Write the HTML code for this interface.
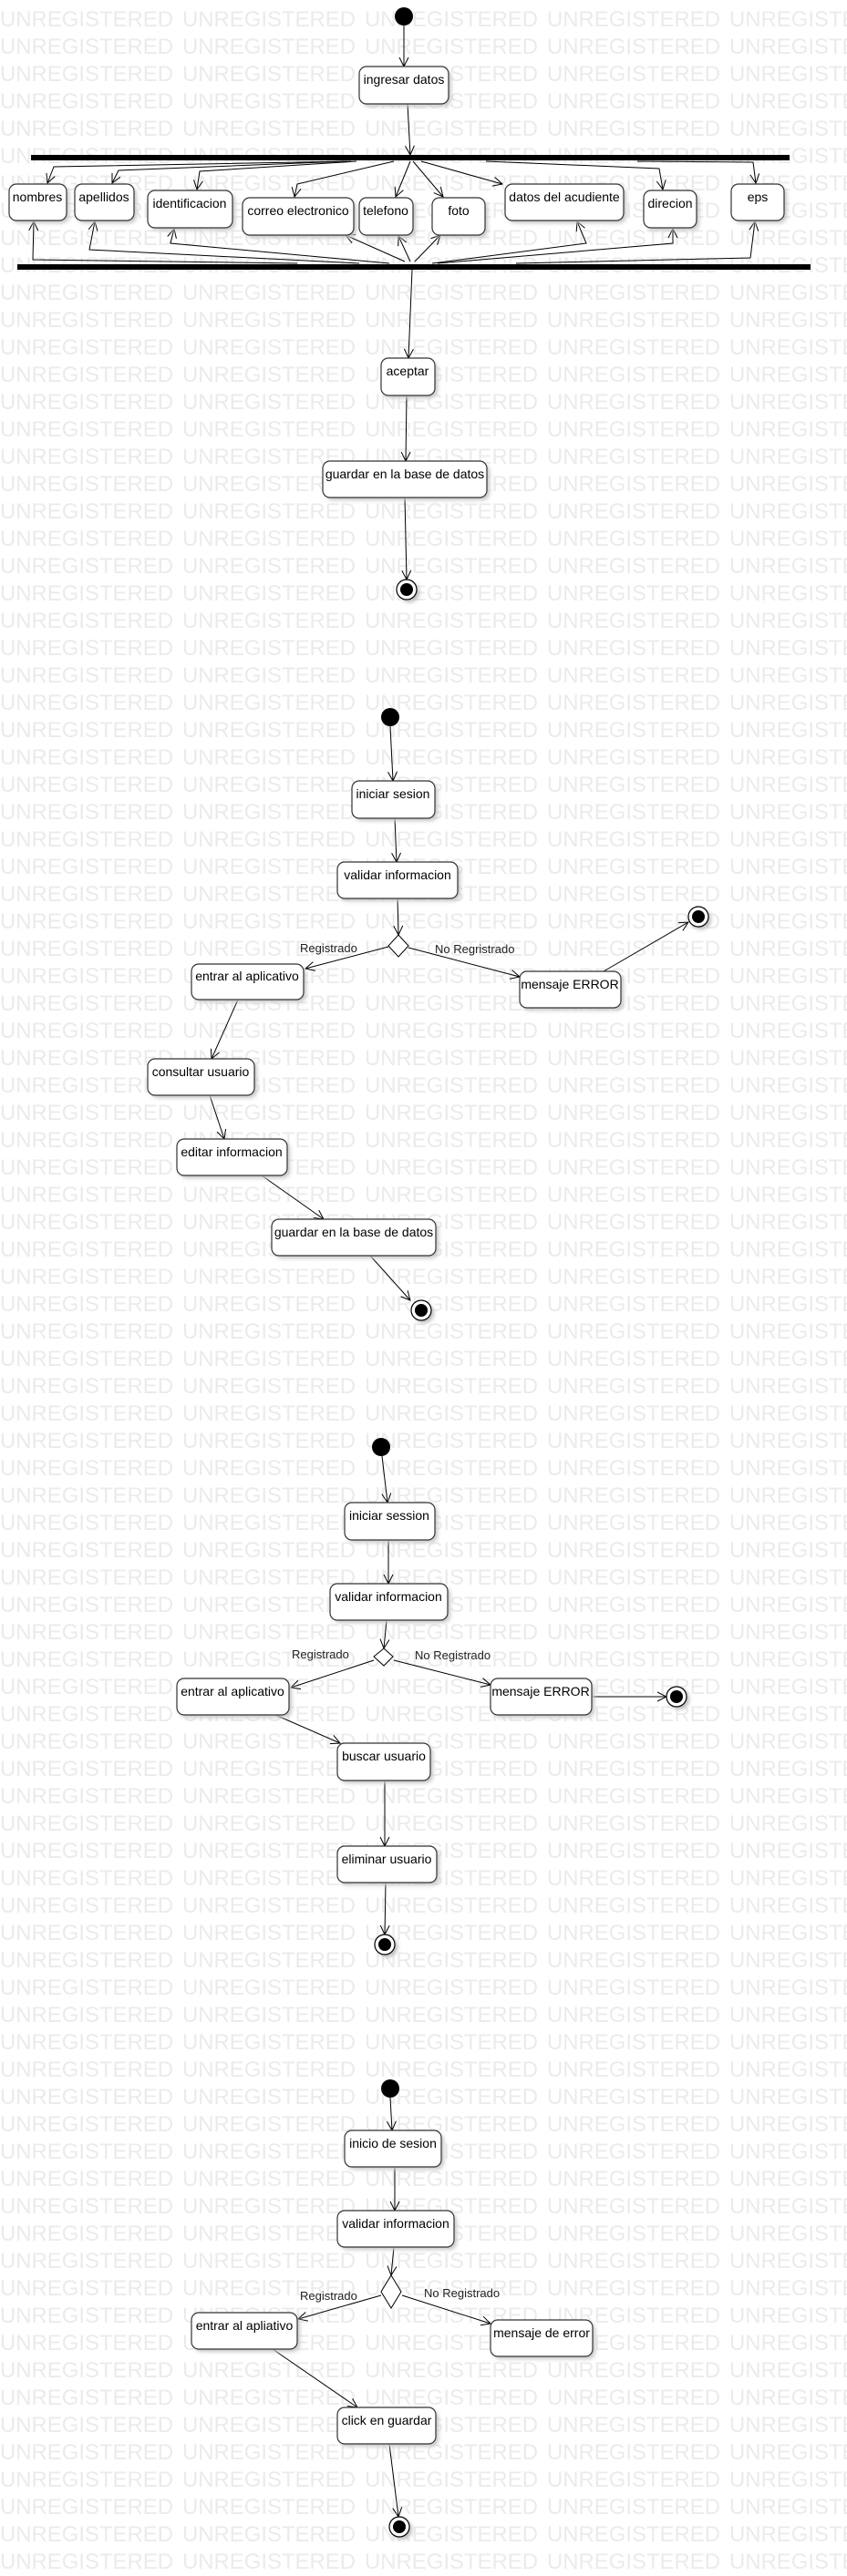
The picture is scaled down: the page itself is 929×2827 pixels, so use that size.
<!DOCTYPE html>
<html><head><meta charset="utf-8"><style>
html,body{margin:0;padding:0;background:#fff}
svg{display:block}
.t{font-family:"Liberation Sans",Arial,sans-serif;font-size:14px;fill:#000}
.l{font-family:"Liberation Sans",Arial,sans-serif;font-size:13px;fill:#222}
.wm{font-family:"Liberation Sans",Arial,sans-serif;font-size:24px;fill:#ebebeb}
</style></head><body>
<svg width="929" height="2827" viewBox="0 0 929 2827" xmlns="http://www.w3.org/2000/svg">
<defs>
<pattern id="wm" x="0" y="0" width="200" height="30" patternUnits="userSpaceOnUse">
<text class="wm" x="0" y="29" textLength="190" lengthAdjust="spacingAndGlyphs">UNREGISTERED</text>
</pattern>
<marker id="a" markerWidth="12" markerHeight="12" refX="11" refY="6" orient="auto" markerUnits="userSpaceOnUse">
<path d="M1,1 L11,6 L1,11" fill="none" stroke="#000" stroke-width="1"/>
</marker>
<filter id="sh" x="-20%" y="-20%" width="150%" height="150%"><feGaussianBlur stdDeviation="2"/></filter>
</defs>
<rect width="929" height="2827" fill="url(#wm)"/>
<g fill="none" stroke="#000" stroke-width="1" marker-end="url(#a)">
<!-- section 1 -->
<line x1="443" y1="28" x2="443" y2="73"/>
<line x1="447" y1="114" x2="450" y2="170"/>
<polyline points="385,177 59,183 52,201"/>
<polyline points="379,177 130,187 123,201"/>
<polyline points="391,177 219,188 216,208"/>
<polyline points="432,177 326,202 323,216"/>
<line x1="450" y1="177" x2="434" y2="216"/>
<line x1="453" y1="177" x2="486" y2="216"/>
<line x1="462" y1="177" x2="551" y2="202"/>
<polyline points="533,177 723,185 727,208"/>
<polyline points="699,177 826,178 829,201"/>
<polyline points="326,289 36,285 37,243"/>
<polyline points="394,289 98,274 104,243"/>
<polyline points="427,289 187,267 191,251"/>
<line x1="444" y1="287" x2="379" y2="258"/>
<line x1="450" y1="287" x2="437" y2="259"/>
<line x1="455" y1="287" x2="483" y2="258"/>
<polyline points="474,289 643,267 633,243"/>
<polyline points="480,289 738,267 738,251"/>
<polyline points="566,289 823,283 828,243"/>
<line x1="452" y1="296" x2="448" y2="393"/>
<line x1="446" y1="434" x2="445" y2="506"/>
<line x1="444" y1="546" x2="446" y2="636"/>
<!-- section 2 -->
<line x1="428" y1="797" x2="431" y2="857"/>
<line x1="433" y1="898" x2="435" y2="946"/>
<line x1="436" y1="986" x2="437" y2="1026"/>
<line x1="426" y1="1039" x2="335" y2="1063"/>
<line x1="448" y1="1040" x2="570" y2="1072"/>
<line x1="662" y1="1066" x2="755" y2="1012"/>
<line x1="261" y1="1097" x2="232" y2="1162"/>
<line x1="230" y1="1202" x2="246" y2="1250"/>
<line x1="287" y1="1290" x2="355" y2="1338"/>
<line x1="406" y1="1378" x2="450" y2="1427"/>
<!-- section 3 -->
<line x1="419" y1="1598" x2="425" y2="1649"/>
<line x1="426" y1="1690" x2="426" y2="1738"/>
<line x1="424" y1="1778" x2="421" y2="1809"/>
<line x1="410" y1="1822" x2="319" y2="1852"/>
<line x1="432" y1="1822" x2="538" y2="1849"/>
<line x1="650" y1="1862" x2="731" y2="1862"/>
<line x1="302" y1="1882" x2="373" y2="1913"/>
<line x1="422" y1="1954" x2="422" y2="2026"/>
<line x1="423" y1="2066" x2="422" y2="2123"/>
<!-- section 4 -->
<line x1="428" y1="2302" x2="430" y2="2338"/>
<line x1="433" y1="2378" x2="433" y2="2426"/>
<line x1="432" y1="2466" x2="429" y2="2497"/>
<line x1="418" y1="2519" x2="327" y2="2545"/>
<line x1="441" y1="2519" x2="538" y2="2550"/>
<line x1="299" y1="2578" x2="392" y2="2642"/>
<line x1="427" y1="2682" x2="437" y2="2762"/>
</g>
<!-- bars -->
<rect x="34" y="170" width="832" height="6" fill="#000"/>
<rect x="19" y="290" width="870" height="6" fill="#000"/>
<!-- boxes -->
<g id="boxes">
<g fill="#c8c8c8" filter="url(#sh)">
<rect x="397" y="76" width="98" height="41" rx="8"/>
<rect x="13" y="205" width="63" height="40" rx="8"/>
<rect x="85" y="205" width="65" height="40" rx="8"/>
<rect x="165" y="212" width="93" height="41" rx="8"/>
<rect x="269" y="220" width="122" height="41" rx="8"/>
<rect x="397" y="220" width="59" height="41" rx="8"/>
<rect x="477" y="220" width="58" height="41" rx="8"/>
<rect x="557" y="205" width="130" height="40" rx="8"/>
<rect x="709" y="212" width="58" height="41" rx="8"/>
<rect x="805" y="205" width="58" height="40" rx="8"/>
<rect x="421" y="396" width="59" height="41" rx="8"/>
<rect x="357" y="509" width="180" height="40" rx="8"/>
<rect x="389" y="860" width="91" height="41" rx="8"/>
<rect x="373" y="949" width="132" height="40" rx="8"/>
<rect x="213" y="1061" width="123" height="39" rx="8"/>
<rect x="573" y="1069" width="111" height="40" rx="8"/>
<rect x="165" y="1165" width="117" height="40" rx="8"/>
<rect x="197" y="1253" width="121" height="40" rx="8"/>
<rect x="301" y="1341" width="180" height="40" rx="8"/>
<rect x="381" y="1652" width="99" height="41" rx="8"/>
<rect x="365" y="1741" width="129" height="40" rx="8"/>
<rect x="197" y="1845" width="123" height="40" rx="8"/>
<rect x="541" y="1845" width="111" height="40" rx="8"/>
<rect x="373" y="1916" width="102" height="41" rx="8"/>
<rect x="373" y="2029" width="109" height="40" rx="8"/>
<rect x="381" y="2341" width="106" height="40" rx="8"/>
<rect x="373" y="2429" width="128" height="40" rx="8"/>
<rect x="213" y="2541" width="116" height="40" rx="8"/>
<rect x="541" y="2549" width="112" height="40" rx="8"/>
<rect x="373" y="2645" width="108" height="40" rx="8"/>
</g>
<g fill="#fff" stroke="#333" stroke-width="1.2">
<rect x="394" y="73" width="98" height="41" rx="8"/>
<rect x="10" y="202" width="63" height="40" rx="8"/>
<rect x="82" y="202" width="65" height="40" rx="8"/>
<rect x="162" y="209" width="93" height="41" rx="8"/>
<rect x="266" y="217" width="122" height="41" rx="8"/>
<rect x="394" y="217" width="59" height="41" rx="8"/>
<rect x="474" y="217" width="58" height="41" rx="8"/>
<rect x="554" y="202" width="130" height="40" rx="8"/>
<rect x="706" y="209" width="58" height="41" rx="8"/>
<rect x="802" y="202" width="58" height="40" rx="8"/>
<rect x="418" y="393" width="59" height="41" rx="8"/>
<rect x="354" y="506" width="180" height="40" rx="8"/>
<rect x="386" y="857" width="91" height="41" rx="8"/>
<rect x="370" y="946" width="132" height="40" rx="8"/>
<rect x="210" y="1058" width="123" height="39" rx="8"/>
<rect x="570" y="1066" width="111" height="40" rx="8"/>
<rect x="162" y="1162" width="117" height="40" rx="8"/>
<rect x="194" y="1250" width="121" height="40" rx="8"/>
<rect x="298" y="1338" width="180" height="40" rx="8"/>
<rect x="378" y="1649" width="99" height="41" rx="8"/>
<rect x="362" y="1738" width="129" height="40" rx="8"/>
<rect x="194" y="1842" width="123" height="40" rx="8"/>
<rect x="538" y="1842" width="111" height="40" rx="8"/>
<rect x="370" y="1913" width="102" height="41" rx="8"/>
<rect x="370" y="2026" width="109" height="40" rx="8"/>
<rect x="378" y="2338" width="106" height="40" rx="8"/>
<rect x="370" y="2426" width="128" height="40" rx="8"/>
<rect x="210" y="2538" width="116" height="40" rx="8"/>
<rect x="538" y="2546" width="112" height="40" rx="8"/>
<rect x="370" y="2642" width="108" height="40" rx="8"/>
</g>
</g>
<g class="t" text-anchor="middle">
<text x="443" y="92">ingresar datos</text>
<text x="41" y="221">nombres</text>
<text x="114" y="221">apellidos</text>
<text x="208" y="228">identificacion</text>
<text x="327" y="236">correo electronico</text>
<text x="423" y="236">telefono</text>
<text x="503" y="236">foto</text>
<text x="619" y="221">datos del acudiente</text>
<text x="735" y="228">direcion</text>
<text x="831" y="221">eps</text>
<text x="447" y="412">aceptar</text>
<text x="444" y="525">guardar en la base de datos</text>
<text x="431" y="876">iniciar sesion</text>
<text x="436" y="965">validar informacion</text>
<text x="271" y="1076">entrar al aplicativo</text>
<text x="625" y="1085">mensaje ERROR</text>
<text x="220" y="1181">consultar usuario</text>
<text x="254" y="1269">editar informacion</text>
<text x="388" y="1357">guardar en la base de datos</text>
<text x="427" y="1668">iniciar session</text>
<text x="426" y="1757">validar informacion</text>
<text x="255" y="1861">entrar al aplicativo</text>
<text x="593" y="1861">mensaje ERROR</text>
<text x="421" y="1932">buscar usuario</text>
<text x="424" y="2045">eliminar usuario</text>
<text x="431" y="2357">inicio de sesion</text>
<text x="434" y="2445">validar informacion</text>
<text x="268" y="2557">entrar al apliativo</text>
<text x="594" y="2565">mensaje de error</text>
<text x="424" y="2661">click en guardar</text>
</g>
<g class="l">
<text x="329" y="1045">Registrado</text>
<text x="477" y="1046">No Regristrado</text>
<text x="320" y="1820">Registrado</text>
<text x="455" y="1821">No Registrado</text>
<text x="329" y="2524">Registrado</text>
<text x="465" y="2521">No Registrado</text>
</g>
<!-- diamonds -->
<g fill="#fff" stroke="#000" stroke-width="1">
<polygon points="437,1026 448,1038 437,1050 426,1038"/>
<polygon points="421,1809 431,1818 421,1828 410,1818"/>
<polygon points="429,2497 440,2515 429,2533 418,2515"/>
</g>
<!-- start nodes -->
<g fill="#000">
<circle cx="443" cy="18" r="10"/>
<circle cx="428" cy="787" r="10"/>
<circle cx="418" cy="1588" r="10"/>
<circle cx="428" cy="2292" r="10"/>
</g>
<!-- end nodes -->
<g>
<g fill="#bbb" filter="url(#sh)">
<circle cx="449" cy="650" r="11"/><circle cx="769" cy="1009" r="11"/><circle cx="465" cy="1441" r="11"/>
<circle cx="745" cy="1865" r="11"/><circle cx="425" cy="2137" r="11"/><circle cx="441" cy="2776" r="11"/>
</g>
<g fill="#fff" stroke="#000" stroke-width="1.2">
<circle cx="446" cy="647" r="11"/><circle cx="766" cy="1006" r="11"/><circle cx="462" cy="1438" r="11"/>
<circle cx="742" cy="1862" r="11"/><circle cx="422" cy="2134" r="11"/><circle cx="438" cy="2773" r="11"/>
</g>
<g fill="#000">
<circle cx="446" cy="647" r="7"/><circle cx="766" cy="1006" r="7"/><circle cx="462" cy="1438" r="7"/>
<circle cx="742" cy="1862" r="7"/><circle cx="422" cy="2134" r="7"/><circle cx="438" cy="2773" r="7"/>
</g>
</g>
</svg>
</body></html>
